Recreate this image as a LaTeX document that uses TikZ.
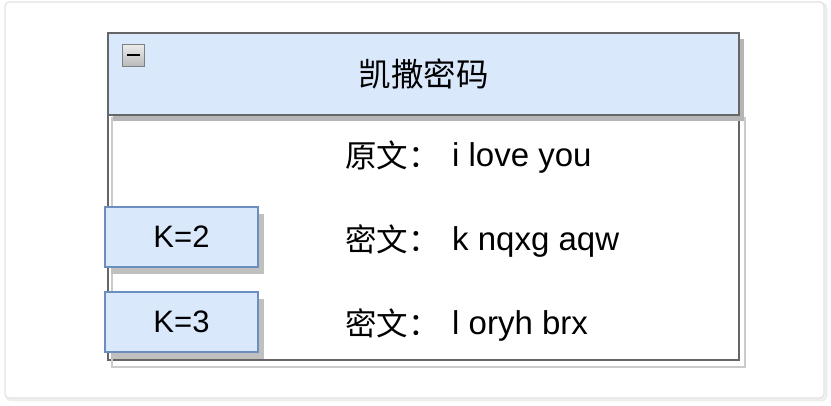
\documentclass[tikz,border=0pt]{standalone}
\usepackage{fontspec}
\setmainfont{Liberation Sans}
\newfontfamily\cjk{Noto Sans CJK SC}
\usetikzlibrary{shadows}
\definecolor{headblue}{HTML}{DAE8FC}
\definecolor{boxgray}{HTML}{666666}
\definecolor{shadowgray}{HTML}{B5B5B5}
\definecolor{kborder}{HTML}{6C8EBF}
\definecolor{framegray}{HTML}{E2E2E2}
\tikzset{
  headbox/.style={draw=boxgray, line width=2pt, fill=headblue, minimum width=631pt, minimum height=82pt, inner sep=0pt,
    drop shadow={shadow xshift=5pt, shadow yshift=-6pt, opacity=1, fill=shadowgray}},
  bodybox/.style={draw=boxgray, line width=2pt, fill=white, minimum width=631pt, minimum height=247pt, inner sep=0pt},
  kbox/.style={draw=kborder, line width=1.5pt, fill=headblue, minimum width=153pt, minimum height=60pt, inner sep=0pt,
    font=\fontsize{31}{36}\selectfont,
    drop shadow={shadow xshift=6pt, shadow yshift=-7pt, opacity=1, fill=shadowgray!85}},
  lbl/.style={anchor=base west, inner sep=0pt, font=\cjk\fontsize{31.5}{36}\selectfont},
  txt/.style={anchor=base west, inner sep=0pt, font=\fontsize{33}{38}\selectfont}
}
\begin{document}
\begin{tikzpicture}[x=1pt, y=-1pt]
\useasboundingbox (0,0) rectangle (831,406);
% Outer frame
\draw[framegray!60, line width=3pt, rounded corners=4pt] (7,4) rectangle (826,400);
\draw[framegray, line width=1.2pt, fill=white, rounded corners=4pt] (5,2) rectangle (824,398);

% Main box
\node[bodybox] (body) at (423.5,236.5) {};
\draw[shadowgray!70, line width=1.5pt] ([shift={(5,6)}]body.north west) rectangle ([shift={(5,6)}]body.south east);
\node[headbox, font=\cjk\fontsize{32.5}{38}\selectfont] (head) at (423.5,74) {凯撒密码};

% Toggle
\node[draw=gray, line width=1.5pt, top color=gray!15, bottom color=gray!55, minimum size=22pt, inner sep=0pt] (toggle) at (133.5,55.5) {};
\draw[line width=2pt] ([xshift=5pt]toggle.west) -- ([xshift=-5pt]toggle.east);

% Lines of text
\foreach \i/\y/\lab/\txt in {1/167/原文：/i love you, 2/251/密文：/k nqxg aqw, 3/335/密文：/l oryh brx} {
  \node[lbl] (lbl\i) at (345,\y+1) {\lab};
  \node[txt] (txt\i) at (452,\y) {\txt};
}

% Keys
\node[kbox] (k2) at (181.5,237) {K=2};
\node[kbox] (k3) at (181.5,322) {K=3};
\end{tikzpicture}
\end{document}
